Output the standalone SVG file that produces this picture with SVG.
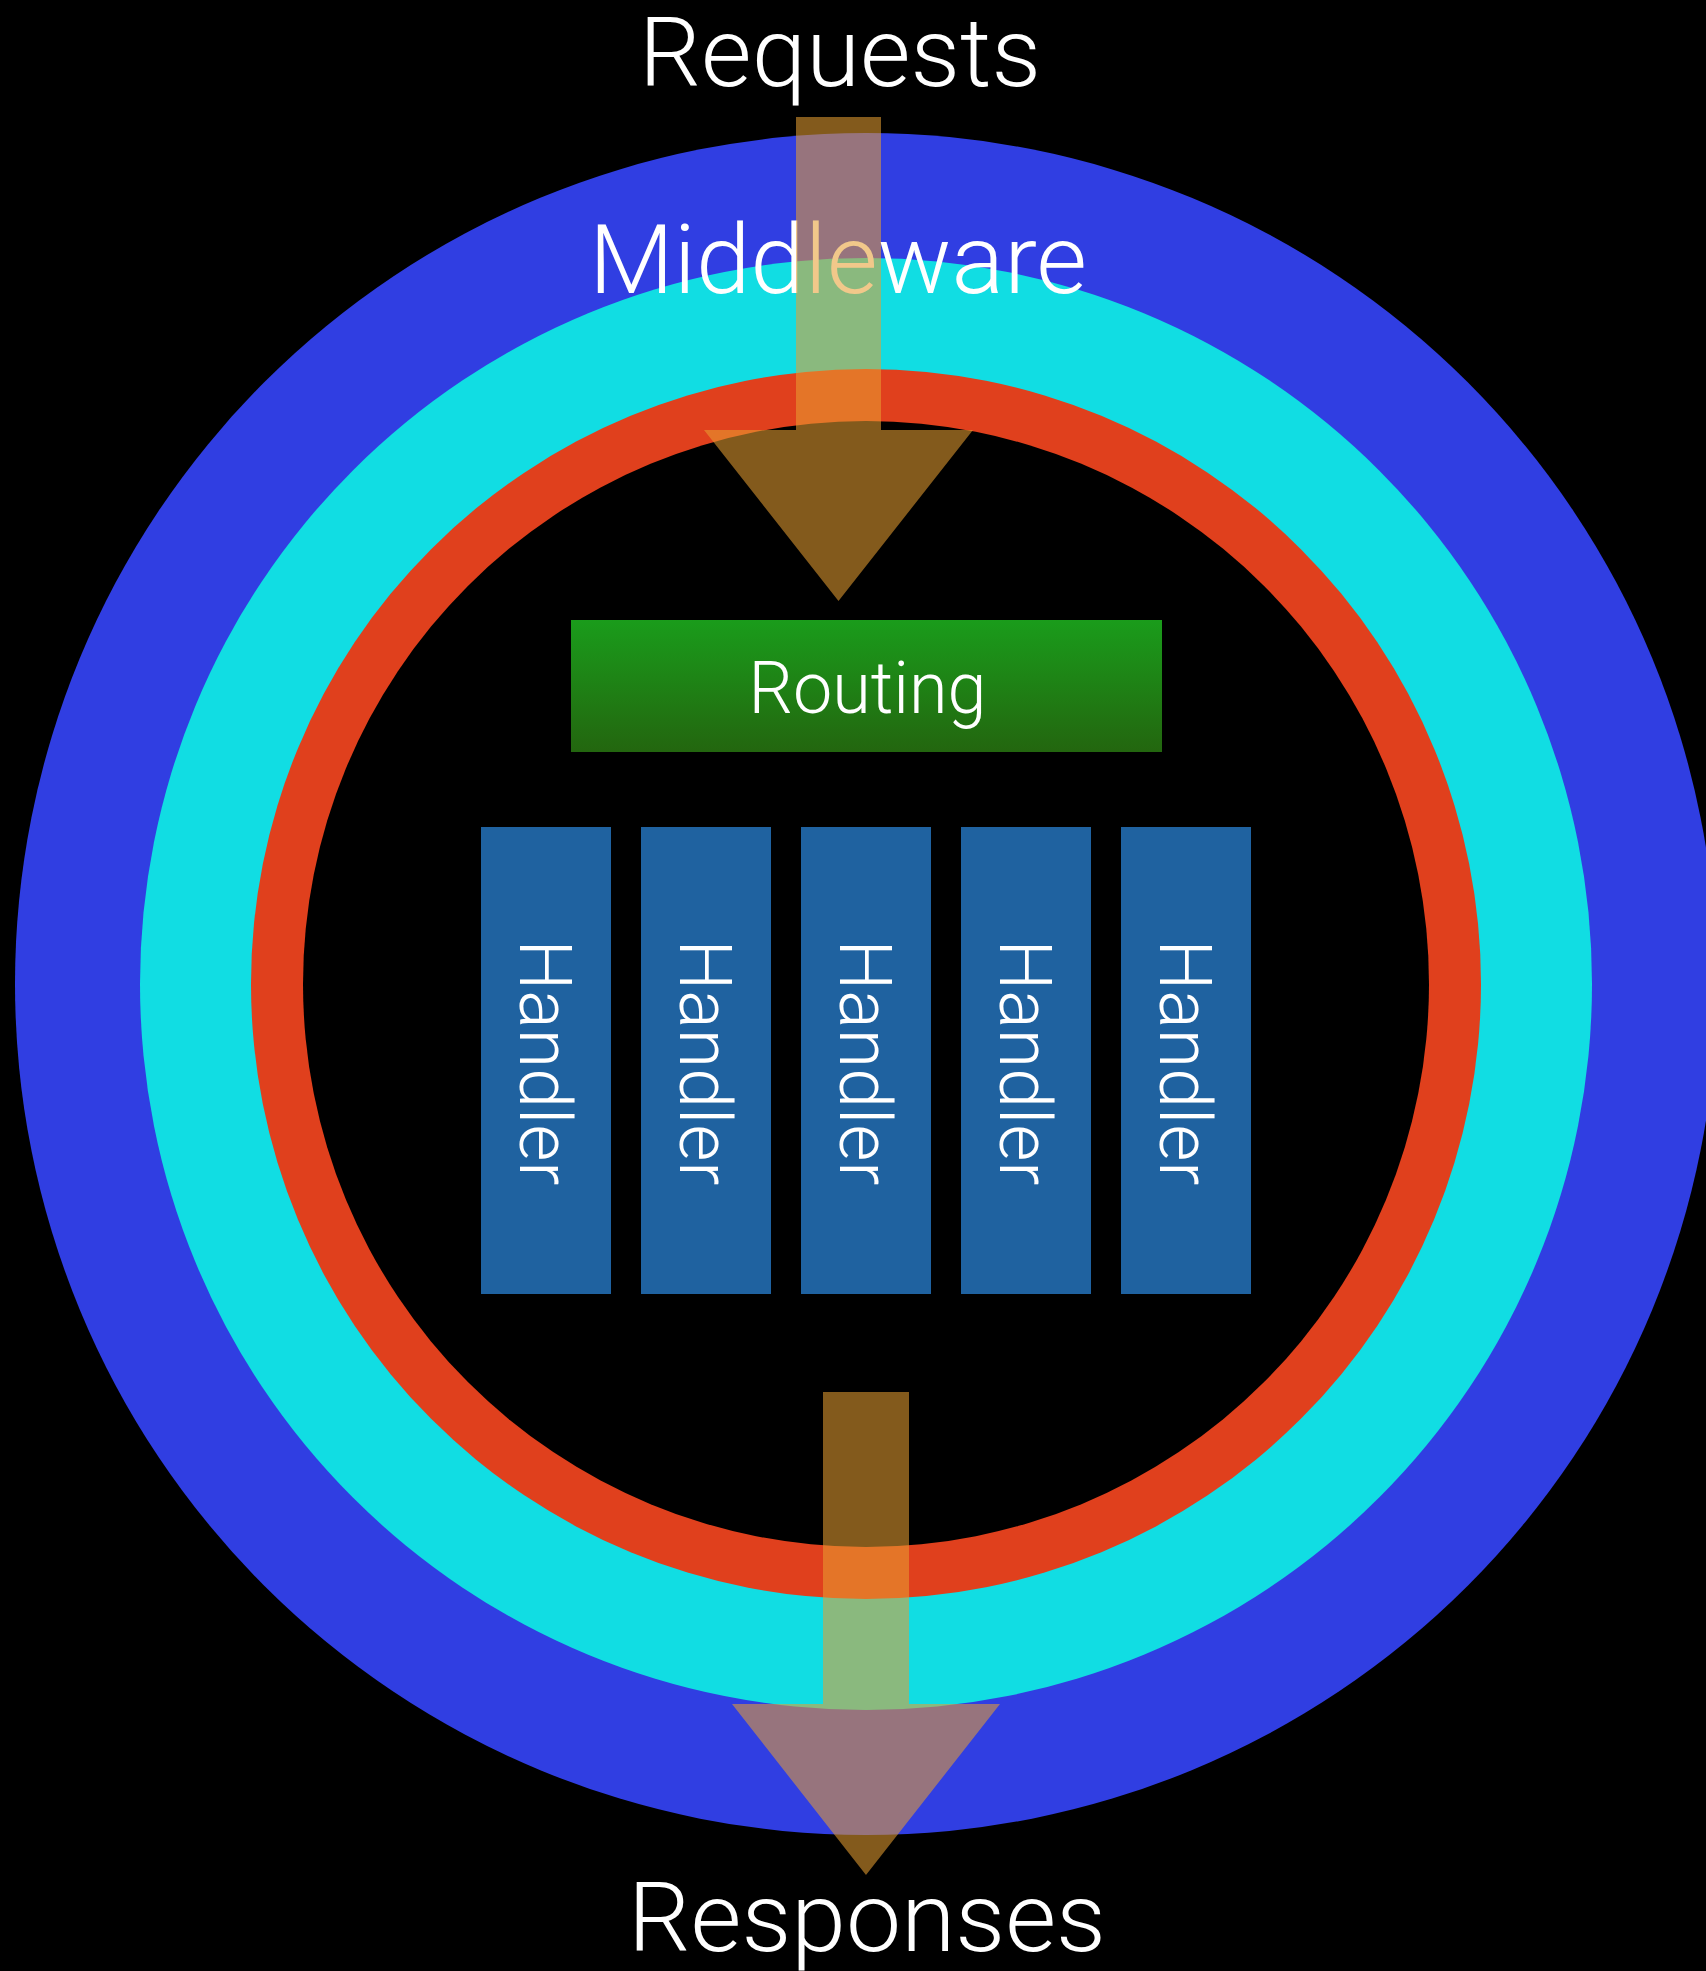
<svg xmlns="http://www.w3.org/2000/svg" width="1706" height="1971" viewBox="0 0 1706 1971">
  <defs>
    <linearGradient id="routingGrad" x1="0" y1="0" x2="0" y2="1">
      <stop offset="0" stop-color="#1A9C1B"/>
      <stop offset="1" stop-color="#23660F"/>
    </linearGradient>
    <style>
      .lbl { font-family: "Roboto", "Liberation Sans", sans-serif; font-weight: 300; fill: #FFFFFF; }
      .big { font-size: 97px; }
      .mid { font-size: 72px; }
      .handler rect { fill: #1F62A0; }
      .arrow { fill: #E69E31; fill-opacity: 0.57; }
    </style>
  </defs>
  <rect x="0" y="0" width="1706" height="1971" fill="#000000"/>

  <g id="middleware-outer">
    <circle cx="866" cy="984" r="851" fill="#303EE2"/>
  </g>
  <g id="middleware-middle">
    <circle cx="866" cy="984" r="726" fill="#11DDE3"/>
  </g>
  <g id="middleware-inner">
    <circle cx="866" cy="984" r="615" fill="#E0401D"/>
    <circle cx="866" cy="984" r="563" fill="#000000"/>
  </g>
  <g id="middleware-label">
    <text class="lbl big" x="838" y="293" text-anchor="middle" textLength="498" lengthAdjust="spacingAndGlyphs">Middleware</text>
  </g>

  <g id="routing">
    <rect x="571" y="620" width="591" height="132" fill="url(#routingGrad)"/>
    <text class="lbl mid" x="867.5" y="713" text-anchor="middle" textLength="238" lengthAdjust="spacingAndGlyphs">Routing</text>
  </g>

  <g id="handler-1" class="handler">
    <rect x="481" y="827" width="130" height="467"/>
    <text class="lbl mid" transform="translate(520,1062.5) rotate(90)" text-anchor="middle" textLength="246" lengthAdjust="spacingAndGlyphs">Handler</text>
  </g>
  <g id="handler-2" class="handler">
    <rect x="641" y="827" width="130" height="467"/>
    <text class="lbl mid" transform="translate(680,1062.5) rotate(90)" text-anchor="middle" textLength="246" lengthAdjust="spacingAndGlyphs">Handler</text>
  </g>
  <g id="handler-3" class="handler">
    <rect x="801" y="827" width="130" height="467"/>
    <text class="lbl mid" transform="translate(840,1062.5) rotate(90)" text-anchor="middle" textLength="246" lengthAdjust="spacingAndGlyphs">Handler</text>
  </g>
  <g id="handler-4" class="handler">
    <rect x="961" y="827" width="130" height="467"/>
    <text class="lbl mid" transform="translate(1000,1062.5) rotate(90)" text-anchor="middle" textLength="246" lengthAdjust="spacingAndGlyphs">Handler</text>
  </g>
  <g id="handler-5" class="handler">
    <rect x="1121" y="827" width="130" height="467"/>
    <text class="lbl mid" transform="translate(1160,1062.5) rotate(90)" text-anchor="middle" textLength="246" lengthAdjust="spacingAndGlyphs">Handler</text>
  </g>

  <g id="connectors">
    <path id="request-arrow" class="arrow" d="M796,117 H881 V430 H973 L838.5,601 L704,430 H796 Z"/>
    <path id="response-arrow" class="arrow" d="M823,1392 H909 V1704 H1000 L866,1875 L732,1704 H823 Z"/>
  </g>

  <g id="requests-label">
    <text class="lbl big" x="840" y="86" text-anchor="middle" textLength="402" lengthAdjust="spacingAndGlyphs">Requests</text>
  </g>
  <g id="responses-label">
    <text class="lbl big" x="867" y="1951" text-anchor="middle" textLength="478" lengthAdjust="spacingAndGlyphs">Responses</text>
  </g>
</svg>
